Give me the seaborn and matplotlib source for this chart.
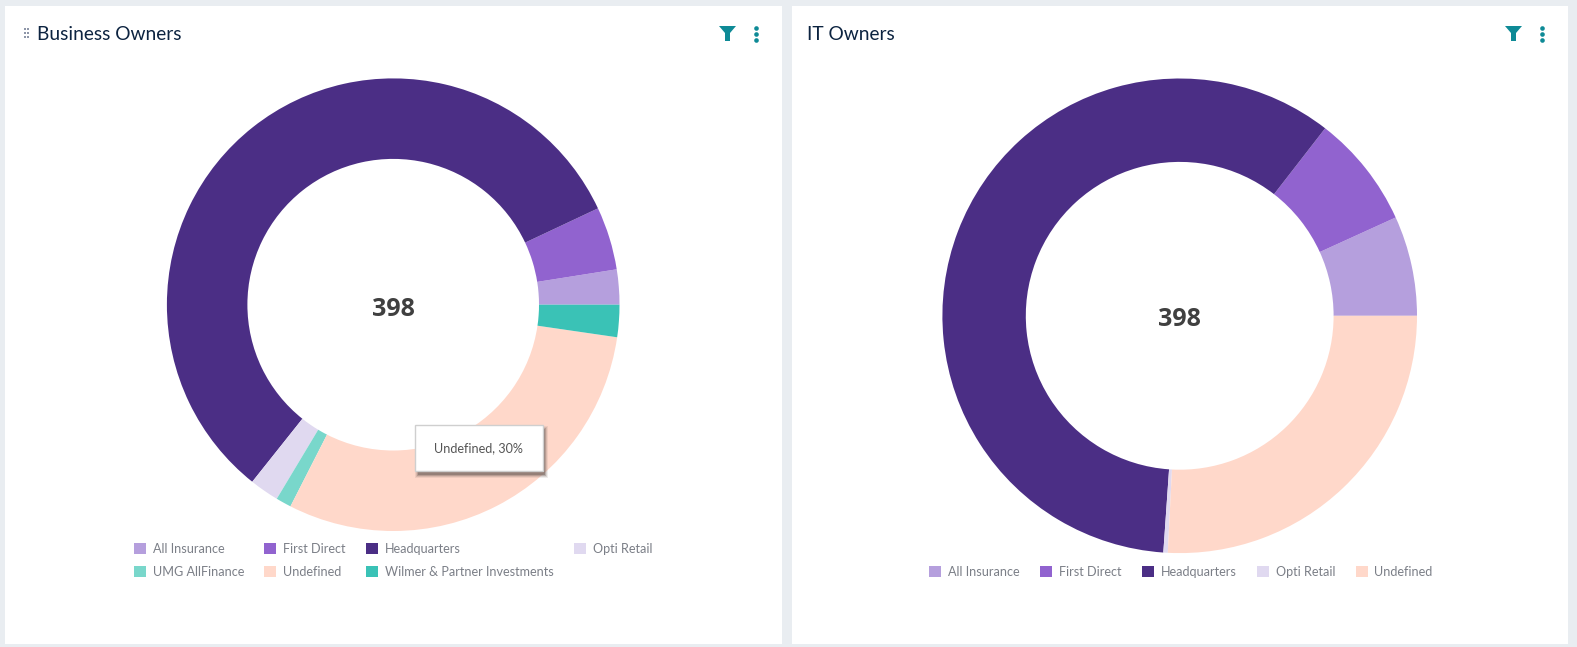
### Business Owners / IT Owners donut cards ###
import matplotlib
matplotlib.use('Agg')
import matplotlib.pyplot as plt
from matplotlib.patches import Rectangle, Polygon
import seaborn as sns

W, H = 1577, 647

# Values in percent, counter clockwise from 3 o'clock
business_labels = ['All Insurance', 'First Direct', 'Headquarters', 'Opti Retail', 'UMG AllFinance', 'Undefined', 'Wilmer & Partner Investments']
business_values = [2.5, 4.5, 57.3, 2.1, 1.1, 30.2, 2.3]
it_labels = ['All Insurance', 'First Direct', 'Headquarters', 'Opti Retail', 'Undefined']
it_values = [6.8, 7.7, 59.4, 0.3, 25.8]
total = '398'

colors = {'All Insurance': '#b59fdd', 'First Direct': '#9163cf', 'Headquarters': '#4b2e85',
          'Opti Retail': '#e0d9f0', 'UMG AllFinance': '#79d7cb', 'Undefined': '#ffd8ca',
          'Wilmer & Partner Investments': '#3ac2b6'}

sns.set_theme(style='white')
plt.rcParams['font.family'] = ['Lato', 'DejaVu Sans']

fig = plt.figure(figsize=(W / 100, H / 100), dpi=100, facecolor='#e9edf1')
bg = fig.add_axes([0, 0, 1, 1])
bg.set_xlim(0, W)
bg.set_ylim(H, 0)
bg.axis('off')

# Cards
bg.add_patch(Rectangle((5, 6), 777, 638, fc='white', ec='none'))
bg.add_patch(Rectangle((792, 6), 776, 638, fc='white', ec='none'))

def donut(cx, cy, r_out, r_in, labels, values):
    ax = fig.add_axes([(cx - r_out) / W, 1 - (cy + r_out) / H, 2 * r_out / W, 2 * r_out / H])
    ax.pie(values, colors=[colors[l] for l in labels], startangle=0, counterclock=True, radius=1,
           wedgeprops={'width': 1 - r_in / r_out, 'linewidth': 0})
    ax.set_xlim(-1, 1)
    ax.set_ylim(-1, 1)
    ax.patch.set_alpha(0)
    return ax

donut(393.2, 304.7, 226.3, 145.8, business_labels, business_values)
donut(1179.7, 315.8, 237.3, 153.9, it_labels, it_values)

# Everything above the donuts goes on a second overlay
top = fig.add_axes([0, 0, 1, 1])
top.set_xlim(0, W)
top.set_ylim(H, 0)
top.axis('off')
top.patch.set_alpha(0)

top.text(393.2, 309.5, total, ha='center', va='center', fontsize=18, fontweight='bold', color='#404040', family='Open Sans')
top.text(1179.7, 319, total, ha='center', va='center', fontsize=18, fontweight='bold', color='#404040', family='Open Sans')

# Titles
top.text(37.2, 34, 'Business Owners', ha='left', va='center', fontsize=13.8, color='#0c2340')
top.text(806.8, 34, 'IT Owners', ha='left', va='center', fontsize=13.8, color='#0c2340')

# Drag handle
for x in (24.5, 27.5):
    for y in (29, 33, 37):
        top.add_patch(Rectangle((x - 1, y - 1), 2, 2, fc='#8e96a8', ec='none'))

# Filter and menu icons
teal = '#0e8a96'
for x0, kebab in ((719, 756), (1505, 1542)):
    top.add_patch(Polygon([(x0, 26), (x0 + 17, 26), (x0 + 11, 33), (x0 + 11, 41), (x0 + 6, 41), (x0 + 6, 33)], fc=teal, ec='none'))
    top.scatter([kebab] * 3, [28, 34, 40], s=11, color=teal, linewidths=0)

# Tooltip with soft shadow
for grow, alpha in ((3, .12), (2, .2), (1, .35), (0, .6)):
    top.add_patch(Rectangle((418 - grow, 429 - grow), 127 + 2 * grow, 45.5 + 2 * grow, fc='#7d6c66', ec='none', alpha=alpha))
top.add_patch(Rectangle((415.4, 425.4), 127.6, 46, fc='white', ec='#cfcfcf', lw=1))
top.text(478.7, 448.5, 'Undefined, 30%', ha='center', va='center', fontsize=9.1, color='#555555')

def legend(labels, ncol, cx, cy):
    handles = [Rectangle((0, 0), 1, 1, fc=colors[l], ec='none') for l in labels]
    leg = top.legend(handles, labels, ncol=ncol, loc='center', bbox_to_anchor=(cx, cy), bbox_transform=top.transData,
                     frameon=False, fontsize=9.1, handlelength=.95, handleheight=.95, handletextpad=.55,
                     columnspacing=1.6, labelspacing=.83, labelcolor='#7b7f87', borderpad=0, borderaxespad=0)
    return leg

# matplotlib fills column by column, so the order follows the columns of the card
order = ['All Insurance', 'UMG AllFinance', 'First Direct', 'Undefined', 'Headquarters', 'Wilmer & Partner Investments', 'Opti Retail']
top.add_artist(legend(order, 4, 393, 560.5))
legend(it_labels, 5, 1181, 571.5)

fig.savefig('out.png', dpi=100, facecolor=fig.get_facecolor())
